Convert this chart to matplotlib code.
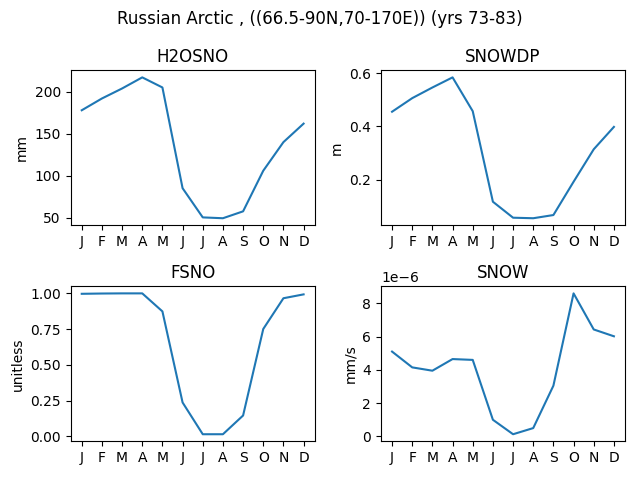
import numpy as np
import matplotlib
matplotlib.use("Agg")
import matplotlib.pyplot as plt

months = ["J", "F", "M", "A", "M", "J", "J", "A", "S", "O", "N", "D"]

h2osno = [177.9, 191.9, 203.8, 217.0, 205.0, 85.2, 50.5, 49.5, 57.7, 106.0, 140.0, 162.0]
snowdp = [0.455, 0.506, 0.546, 0.584, 0.457, 0.117, 0.057, 0.055, 0.067, 0.192, 0.314, 0.398]
fsno = [0.997, 0.999, 1.0, 1.0, 0.874, 0.237, 0.015, 0.015, 0.146, 0.751, 0.966, 0.993]
snow = [5.1e-6, 4.15e-6, 3.95e-6, 4.65e-6, 4.6e-6, 1.0e-6, 0.13e-6, 0.5e-6, 3.05e-6, 8.6e-6, 6.43e-6, 6.02e-6]

panels = [
    ("H2OSNO", h2osno, "mm"),
    ("SNOWDP", snowdp, "m"),
    ("FSNO", fsno, "unitless"),
    ("SNOW", snow, "mm/s"),
]

fig, axs = plt.subplots(2, 2, figsize=(6.4, 4.8))
x = np.arange(len(months))
for ax, (name, vals, units) in zip(axs.flat, panels):
    ax.plot(x, vals)
    ax.set_title(name)
    ax.set_ylabel(units)
    ax.set_xticks(x)
    ax.set_xticklabels(months)

fig.suptitle("Russian Arctic , ((66.5-90N,70-170E)) (yrs 73-83)")
fig.tight_layout()
fig.savefig("out.png", dpi=100)
